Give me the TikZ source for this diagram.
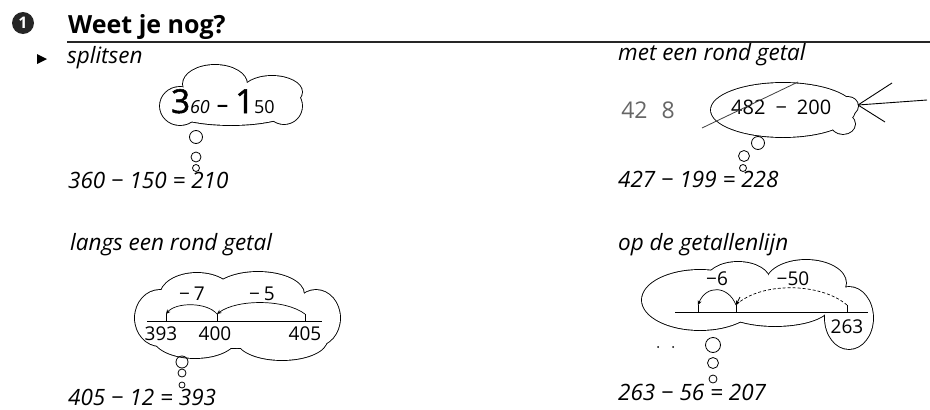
\documentclass[tikz,border=0pt]{standalone}
\usepackage{fontspec}
\setmainfont{Open Sans}
\newfontfamily\heavyfont[FakeBold=1.6]{Open Sans}
\usetikzlibrary{arrows.meta}
\tikzset{
  eqtext/.style={font=\fontsize{22.5}{25}\selectfont\itshape, anchor=base west, inner sep=0pt},
  handtext/.style={font=\fontsize{19}{21}\selectfont, inner sep=0pt},
  bub/.style={draw, circle, inner sep=0pt, line width=0.8pt},
  cloudline/.style={line width=1.8pt},
  nline/.style={line width=1pt},
  tick/.style={line width=0.8pt},
  jump/.style={line width=0.7pt, -{Stealth[length=4.5pt,width=4pt]}},
}
\begin{document}
\begin{tikzpicture}[x=1pt,y=-1pt]
\useasboundingbox[fill=white] (0,0) rectangle (930,410);

% heading
\fill[black!85] (23,23) circle[radius=11];
\node[text=white, inner sep=0pt, font=\fontsize{16}{16}\selectfont\bfseries] (num) at (23,23) {1};
\node[anchor=base west, inner sep=0pt, font=\fontsize{25}{28}\selectfont\bfseries] (head) at (68,33) {Weet je nog?};
\coordinate (hl1) at (67,42);
\coordinate (hl2) at (930,42);
\draw[line width=1.5pt, black!85] (hl1) -- (hl2);
\fill (37,54) -- (47,59) -- (37,64) -- cycle;

% captions
\node[eqtext] (cap1) at (67,63) {splitsen};
\node[eqtext] (cap2) at (618,60) {met een rond getal};
\node[eqtext] (cap3) at (70,250) {langs een rond getal};
\node[eqtext] (cap4) at (618,250) {op de getallenlijn};

% ---------------- cloud 1
\def\cloudA{215/84/32/19, 272/92/30/16, 231/107/66/18, 180/106/20/19, 284/106/18/18}
\foreach \cx/\cy/\rx/\ry in \cloudA
  {\draw[cloudline] (\cx,\cy) ellipse[x radius=\rx, y radius=\ry];}
\foreach \cx/\cy/\rx/\ry in \cloudA
  {\fill[white] (\cx,\cy) ellipse[x radius=\rx, y radius=\ry];}
\node[anchor=base west, inner sep=0pt] (c1t) at (171,113)
  {{\heavyfont\fontsize{33}{36}\selectfont 3}{\fontsize{18}{20}\selectfont\itshape 60}\hspace{7pt}{\fontsize{20}{20}\selectfont\bfseries −}\hspace{7pt}{\heavyfont\fontsize{33}{36}\selectfont 1}{\fontsize{18}{20}\selectfont 50}};
\node[bub, minimum size=13pt] (b1a) at (196,137) {};
\node[bub, minimum size=10pt] (b1b) at (196,157) {};
\node[bub, minimum size=7pt] (b1c) at (196,168) {};
\node[eqtext] (eq1) at (68,188) {360 − 150 = 210};

% ---------------- cloud 2
\def\cloudB{783/110/72/27, 848/106/10/9, 843/124/12/10}
\foreach \cx/\cy/\rx/\ry in \cloudB
  {\draw[cloudline] (\cx,\cy) ellipse[x radius=\rx, y radius=\ry];}
\foreach \cx/\cy/\rx/\ry in \cloudB
  {\fill[white] (\cx,\cy) ellipse[x radius=\rx, y radius=\ry];}
\node[handtext, anchor=base west, font=\fontsize{20}{22}\selectfont] (c2t) at (731,114) {482\hspace{10pt}−\hspace{10pt}200};
\coordinate (s1) at (702,128);
\coordinate (s2) at (798,82);
\draw[line width=0.8pt, black!75] (s1) -- (s2);
\node[handtext, text=black!60, font=\fontsize{23}{25}\selectfont] (hw) at (648,110) {42\hspace{14pt}8};
\coordinate (conv) at (858,105);
\coordinate (a1) at (892,83);
\coordinate (a2) at (927,100);
\coordinate (a3) at (885,122);
\draw[line width=0.9pt] (a1) -- (conv);
\draw[line width=0.9pt] (a2) -- (conv);
\draw[line width=0.9pt] (a3) -- (conv);
\node[bub, minimum size=13pt] (b2a) at (758,143) {};
\node[bub, minimum size=11pt] (b2b) at (744,156) {};
\node[bub, minimum size=7pt] (b2c) at (743,168) {};
\node[eqtext] (eq2) at (618,187) {427 − 199 = 228};

% ---------------- cloud 3
\def\cloudC{160/318/25/28, 197/296/37/23, 258/294/46/22, 316/318/24/28, 195/337/42/21, 282/340/45/20, 237/318/90/30}
\foreach \cx/\cy/\rx/\ry in \cloudC
  {\draw[cloudline] (\cx,\cy) ellipse[x radius=\rx, y radius=\ry];}
\foreach \cx/\cy/\rx/\ry in \cloudC
  {\fill[white] (\cx,\cy) ellipse[x radius=\rx, y radius=\ry];}
\coordinate (l3a) at (147,321);
\coordinate (l3b) at (322,321);
\draw[nline] (l3a) -- (l3b);
\coordinate (t393) at (166,314);
\coordinate (t400) at (217,314);
\coordinate (t405) at (305,314);
\draw[tick] (166,321) -- (t393);
\draw[tick] (217,321) -- (t400);
\draw[tick] (305,321) -- (t405);
\draw[jump] (t400) .. controls (207,302) and (176,302) .. (t393);
\draw[jump] (t405) .. controls (285,299) and (237,299) .. (t400);
\node[handtext] (m7) at (192,294) {−\hspace{4pt}7};
\node[handtext] (m5) at (262,294) {−\hspace{4pt}5};
\node[handtext, anchor=base] (n393) at (161,340) {393};
\node[handtext, anchor=base] (n400) at (215,340) {400};
\node[handtext, anchor=base] (n405) at (305,340) {405};
\node[bub, minimum size=12pt] (b3a) at (182,362) {};
\node[bub, minimum size=8pt] (b3b) at (182,373) {};
\node[bub, minimum size=6pt] (b3c) at (182,385) {};
\node[eqtext] (eq3) at (68,405) {405 − 12 = 393};

% ---------------- cloud 4
\def\cloudD{700/300/58/30, 738/281/32/19, 806/283/40/23, 849/318/24/31, 775/306/55/20}
\foreach \cx/\cy/\rx/\ry in \cloudD
  {\draw[cloudline] (\cx,\cy) ellipse[x radius=\rx, y radius=\ry];}
\foreach \cx/\cy/\rx/\ry in \cloudD
  {\fill[white] (\cx,\cy) ellipse[x radius=\rx, y radius=\ry];}
\coordinate (l4a) at (675,312);
\coordinate (l4b) at (868,312);
\draw[nline] (l4a) -- (l4b);
\coordinate (u1) at (698,305);
\coordinate (u2) at (736,305);
\coordinate (u3) at (847,305);
\draw[tick] (698,312) -- (u1);
\draw[tick] (736,312) -- (u2);
\draw[tick] (847,312) -- (u3);
\draw[jump] (u2) .. controls (728,285) and (706,285) .. (u1);
\draw[line width=0.7pt, densely dashed] (u3) .. controls (820,282) and (760,282) .. (u2);
\draw[jump] (740,297) -- (u2);
\node[handtext] (m6) at (717,279) {−6};
\node[handtext] (m50) at (793,279) {−50};
\node[handtext] (n263) at (847,327) {263};
\fill (658,347) circle[radius=1pt];
\fill (673,347) circle[radius=1pt];
\node[bub, minimum size=15pt] (b4a) at (713,345) {};
\node[bub, minimum size=11pt] (b4b) at (713,363) {};
\node[bub, minimum size=8pt] (b4c) at (713,379) {};
\node[eqtext] (eq4) at (618,400) {263 − 56 = 207};
\end{tikzpicture}
\end{document}
